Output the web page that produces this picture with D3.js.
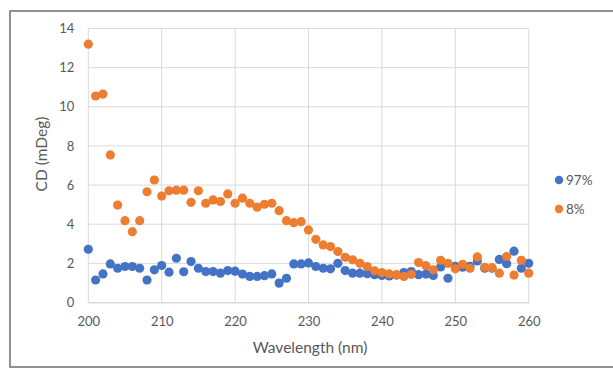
<!DOCTYPE html>
<html><head><meta charset="utf-8">
<script src="https://cdn.jsdelivr.net/npm/d3@7/dist/d3.min.js"></script>
<style>
html,body{margin:0;padding:0;background:#fff;}
svg{display:block;}
text{font-family:Lato,"Open Sans",sans-serif;fill:#595959;}
</style></head><body>
<svg id="c" width="613" height="373"></svg>
<script>
const wavelengths = d3.range(200, 261);
const series97 = [2.72,1.15,1.46,1.97,1.75,1.84,1.84,1.75,1.15,1.67,
1.89,1.55,2.26,1.57,2.09,1.75,1.58,1.58,1.50,1.63,
1.60,1.45,1.33,1.33,1.37,1.46,0.99,1.24,1.97,1.97,
2.02,1.84,1.75,1.72,2.00,1.63,1.50,1.50,1.47,1.42,
1.38,1.36,1.40,1.53,1.58,1.42,1.45,1.38,1.82,1.24,
1.85,1.80,1.85,2.12,1.75,1.75,2.20,1.98,2.62,1.75,2.00];
const series8 = [13.2,10.55,10.65,7.54,4.98,4.18,3.62,4.18,5.66,6.26,
5.44,5.71,5.74,5.74,5.12,5.71,5.07,5.24,5.16,5.55,
5.07,5.33,5.07,4.87,5.02,5.07,4.69,4.18,4.08,4.13,
3.71,3.23,2.94,2.86,2.60,2.31,2.18,2.00,1.84,1.62,
1.53,1.46,1.42,1.33,1.44,2.04,1.88,1.67,2.16,2.00,
1.72,1.95,1.75,2.33,1.80,1.78,1.50,2.35,1.40,2.16,1.50];
const seriesNames = ["97%","8%"];
const seriesColors = ["#4472C4","#ED7D31"];
const xTicks = [200,210,220,230,240,250,260];
const yTicks = [0,2,4,6,8,10,12,14];

const svg = d3.select("#c");
// outer frame
svg.append("rect").attr("x",10).attr("y",11).attr("width",620).attr("height",356)
  .attr("fill","#fff").attr("stroke","#767676").attr("stroke-width",1.6);

const x = d3.scaleLinear().domain([200,260]).range([88.3,528.7]);
const y = d3.scaleLinear().domain([0,14]).range([302.5,28.5]);

// gridlines
const g = svg.append("g");
g.selectAll("line.h").data(yTicks).join("line")
  .attr("x1",x(200)).attr("x2",x(260)).attr("y1",d=>y(d)).attr("y2",d=>y(d))
  .attr("stroke","#d9d9d9").attr("stroke-width",1);
g.selectAll("line.v").data(xTicks).join("line")
  .attr("y1",y(0)).attr("y2",y(14)).attr("x1",d=>x(d)).attr("x2",d=>x(d))
  .attr("stroke","#d9d9d9").attr("stroke-width",1);

// axes labels via d3 axes
const xAxis = svg.append("g").attr("transform",`translate(0,${y(0)})`)
  .call(d3.axisBottom(x).tickValues(xTicks).tickSize(0).tickPadding(14));
xAxis.select(".domain").attr("stroke","#d9d9d9");
xAxis.selectAll("text").style("font-size","13px").attr("fill","#595959");
const yAxis = svg.append("g").attr("transform",`translate(${x(200)},0)`)
  .call(d3.axisLeft(y).tickValues(yTicks).tickSize(0).tickPadding(14));
yAxis.select(".domain").remove();
yAxis.selectAll("text").style("font-size","13px").attr("fill","#595959");

// axis titles
svg.append("text").attr("x",310).attr("y",353).attr("text-anchor","middle")
  .style("font-size","15.5px").text("Wavelength (nm)");
svg.append("text").attr("transform","translate(47,154) rotate(-90)").attr("text-anchor","middle")
  .style("font-size","15.5px").text("CD (mDeg)");

// points
const data = [series97, series8];
data.forEach((s,i)=>{
  svg.append("g").selectAll("circle").data(s).join("circle")
    .attr("cx",(d,j)=>x(wavelengths[j])).attr("cy",d=>y(d)).attr("r",4.6)
    .attr("fill",seriesColors[i]);
});

// legend
seriesNames.forEach((n,i)=>{
  const ly = 180 + i*29;
  svg.append("circle").attr("cx",559).attr("cy",ly).attr("r",4.2).attr("fill",seriesColors[i]);
  svg.append("text").attr("x",566).attr("y",ly+5).style("font-size","13.5px").text(n);
});
</script>
</body></html>
